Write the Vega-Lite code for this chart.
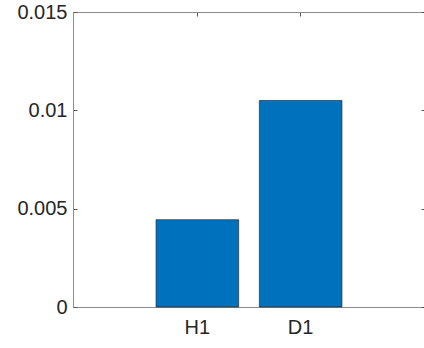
{
  "$schema": "https://vega.github.io/schema/vega-lite/v6.json",
  "width": 352,
  "height": 295,
  "autosize": {"type": "none"},
  "padding": {"left": 73, "top": 12, "right": 0, "bottom": 41},
  "background": "white",
  "config": {
    "font": "Liberation Sans",
    "view": {"stroke": null},
    "axis": {
      "grid": false,
      "domain": true,
      "domainColor": "#8c8c8c",
      "domainWidth": 1,
      "title": null,
      "tickColor": "#555555",
      "tickWidth": 1,
      "labelColor": "#262626",
      "labelFontSize": 20
    }
  },
  "data": {
    "values": [
      {"group": "H1", "value": 0.00444},
      {"group": "D1", "value": 0.0105}
    ]
  },
  "encoding": {
    "x": {
      "field": "group",
      "type": "nominal",
      "sort": ["H1", "D1"],
      "scale": {"paddingInner": 0.2, "paddingOuter": 0.804, "align": 0.5}
    },
    "y": {
      "field": "value",
      "type": "quantitative",
      "scale": {"domain": [0, 0.015], "nice": false, "zero": true}
    }
  },
  "layer": [
    {
      "mark": {"type": "bar", "fill": "#0072BD", "stroke": "#1a1a1a", "strokeWidth": 0.6},
      "encoding": {
        "x": {
          "field": "group",
          "type": "nominal",
          "sort": ["H1", "D1"],
          "axis": {"orient": "bottom", "labelAngle": 0, "tickSize": -4, "labelPadding": 14}
        },
        "y": {
          "field": "value",
          "type": "quantitative",
          "axis": {
            "orient": "left",
            "values": [0, 0.005, 0.01, 0.015],
            "labelExpr": "toString(datum.value)",
            "tickSize": -4,
            "labelPadding": 10
          }
        }
      }
    },
    {
      "mark": {"type": "bar", "opacity": 0},
      "encoding": {
        "x": {
          "field": "group",
          "type": "nominal",
          "sort": ["H1", "D1"],
          "axis": {"orient": "top", "labels": false, "tickSize": -4}
        },
        "y": {
          "field": "value",
          "type": "quantitative",
          "axis": {"orient": "right", "labels": false, "domain": false, "values": [0, 0.005, 0.01, 0.015], "tickSize": -4}
        }
      }
    }
  ],
  "resolve": {"axis": {"x": "independent", "y": "independent"}}
}
